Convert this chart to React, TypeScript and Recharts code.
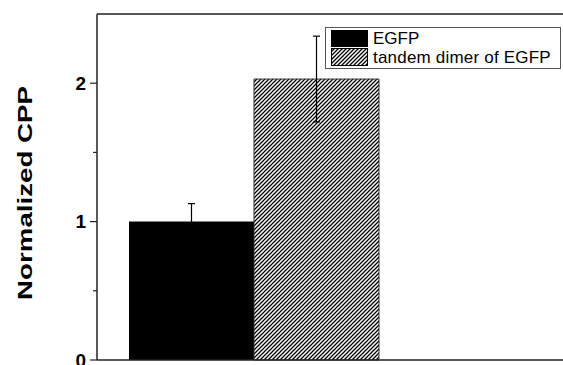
import React from "react";
import { ComposedChart, Bar, Scatter, XAxis, YAxis, ErrorBar, Cell } from "recharts";

document.body.style.margin = "0";

const groups = ["EGFP", "tandem dimer of EGFP"];
const means = [1.0, 2.03];
const errors = [0.13, 0.31];
const fills = ["#000", "url(#hatch)"];
const yTicks = [0, 0.5, 1, 1.5, 2];
const xTicks = [0, 1, 2, 3, 4, 5, 6];

const data = groups.map((name, i) => ({ name, value: means[i], err: errors[i] }));
// invisible points so the frame axes (bottom/top/right) have something to hang on
const frame = xTicks.map((t) => ({ t, v: 0 }));

const AXIS = "#222";
const FONT = "'Liberation Sans', Arial, Helvetica, sans-serif";

const YTick = (props: any) => {
  const { x, y, payload } = props;
  const major = Number.isInteger(payload.value);
  return (
    <g>
      <line x1={x - (major ? 7 : 4)} x2={x} y1={y} y2={y} stroke={AXIS} strokeWidth={1.2} />
      {major && (
        <text
          x={x - 11}
          y={y}
          dy="0.36em"
          textAnchor="end"
          fontFamily={FONT}
          fontWeight="bold"
          fontSize={19}
          fill="#000"
        >
          {payload.value}
        </text>
      )}
    </g>
  );
};

const YLabel = (props: any) => {
  const vb = props.viewBox || { x: 0, y: 0, height: 0 };
  const cx = vb.x + 32;
  const cy = vb.y + vb.height / 2 + 6;
  return (
    <text
      transform={`translate(${cx},${cy}) rotate(-90) scale(1.42,1)`}
      textAnchor="middle"
      fontFamily={FONT}
      fontWeight="bold"
      fontSize={19.5}
      fill="#000"
    >
      Normalized CPP
    </text>
  );
};

const NoDot = () => <g />;

export default function App() {
  return (
    <div style={{ position: "relative", width: 563, height: 365, background: "#fff", overflow: "hidden" }}>
      <svg width={0} height={0} style={{ position: "absolute" }}>
        <defs>
          <pattern id="hatch" width={4} height={4} patternUnits="userSpaceOnUse">
            <rect width={4} height={4} fill="#fff" />
            <path d="M-1,1 L1,-1 M0,4 L4,0 M3,5 L5,3" stroke="#000" strokeWidth={1.3} />
          </pattern>
        </defs>
      </svg>

      <ComposedChart
        width={563}
        height={375}
        data={data}
        margin={{ top: 14, right: -5, bottom: 0, left: 0 }}
        barCategoryGap={0}
      >
        <XAxis
          xAxisId="num"
          dataKey="t"
          type="number"
          domain={[0, 6]}
          ticks={xTicks}
          interval={0}
          tick={false}
          tickSize={5}
          height={15}
          axisLine={{ stroke: AXIS, strokeWidth: 1.5 }}
          tickLine={{ stroke: AXIS, strokeWidth: 1.2 }}
        />
        <XAxis xAxisId="cat" dataKey="name" hide height={0} padding={{ left: 32, right: 189 }} />
        <XAxis
          xAxisId="top"
          dataKey="t"
          orientation="top"
          type="number"
          domain={[0, 6]}
          ticks={xTicks}
          interval={0}
          mirror
          tick={false}
          tickSize={5}
          height={1}
          axisLine={{ stroke: AXIS, strokeWidth: 1.5 }}
          tickLine={{ stroke: AXIS, strokeWidth: 1.2 }}
        />
        <YAxis
          yAxisId="left"
          width={97}
          type="number"
          domain={[0, 2.5]}
          ticks={yTicks}
          interval={0}
          tickLine={false}
          tickSize={0}
          tickMargin={0}
          tick={<YTick />}
          axisLine={{ stroke: AXIS, strokeWidth: 1.5 }}
          label={<YLabel />}
        />
        <YAxis
          yAxisId="right"
          dataKey="v"
          orientation="right"
          width={1}
          mirror
          type="number"
          domain={[0, 2.5]}
          ticks={yTicks}
          interval={0}
          tick={false}
          tickSize={6}
          axisLine={{ stroke: AXIS, strokeWidth: 1.5 }}
          tickLine={{ stroke: AXIS, strokeWidth: 1.2 }}
        />
        <Bar xAxisId="cat" yAxisId="left" dataKey="value" isAnimationActive={false}>
          {data.map((d, i) => (
            <Cell key={d.name} fill={fills[i]} stroke={i === 1 ? "#333" : "none"} strokeWidth={1} />
          ))}
          <ErrorBar dataKey="err" direction="y" width={3.5} stroke="#000" strokeWidth={1.2} isAnimationActive={false} />
        </Bar>
        <Scatter xAxisId="num" yAxisId="right" data={frame} dataKey="v" shape={<NoDot />} isAnimationActive={false} />
        <Scatter xAxisId="top" yAxisId="right" data={frame} dataKey="v" shape={<NoDot />} isAnimationActive={false} />
      </ComposedChart>

      {/* legend */}
      <div
        style={{
          position: "absolute",
          left: 325,
          top: 27,
          width: 236,
          height: 42,
          boxSizing: "border-box",
          border: "1px solid #555",
          background: "#fff",
          fontFamily: FONT,
          fontSize: 17,
          lineHeight: "19px",
          color: "#000",
        }}
      >
        <div style={{ position: "absolute", left: 5, top: 2, width: 37, height: 17, background: "#000" }} />
        <svg style={{ position: "absolute", left: 5, top: 20 }} width={37} height={18}>
          <rect x={0.5} y={0.5} width={36} height={17} fill="url(#hatch)" stroke="#000" />
        </svg>
        <div style={{ position: "absolute", left: 47, top: 1, whiteSpace: "nowrap" }}>{groups[0]}</div>
        <div style={{ position: "absolute", left: 47, top: 20, whiteSpace: "nowrap", letterSpacing: 0.2 }}>
          {groups[1]}
        </div>
      </div>
    </div>
  );
}
